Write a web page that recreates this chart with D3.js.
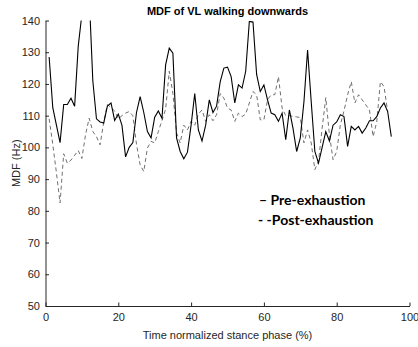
<!DOCTYPE html>
<html>
<head>
<meta charset="utf-8">
<script src="https://cdn.jsdelivr.net/npm/d3@7/dist/d3.min.js"></script>
<style>
html,body{margin:0;padding:0;background:#fff;}
svg{display:block;}
</style>
</head>
<body>
<svg id="chart" width="418" height="347"></svg>
<script>
const titleText = "MDF of VL walking downwards";
const xLabel = "Time normalized stance phase (%)";
const yLabel = "MDF (Hz)";
const xTicks = [0, 20, 40, 60, 80, 100];
const yTicks = [50, 60, 70, 80, 90, 100, 110, 120, 130, 140];
const legendLabels = ["\u2013 Pre-exhaustion", "- -Post-exhaustion"];

const preX = d3.range(1, 96);
const preValues = [
  128.5, 112.5, 107, 101.5, 113.5, 113.5, 115.5, 113, 132, 142,
  156, 148, 121, 109, 108, 107.7, 113, 114, 108.5, 110.5,
  107, 97, 100, 101.5, 111, 116, 111, 105, 103, 109.5,
  111.5, 109.2, 126, 131.3, 129.7, 103, 98.7, 96.4, 98.5, 107,
  117, 105.5, 102, 107, 115, 111, 113, 120.7, 125, 125.3,
  122.3, 114, 119.7, 118.7, 124, 139.7, 139.5, 123, 117.6, 119.7,
  115, 110.8, 110.3, 108.2, 110.8, 102.4, 111.8, 106, 98.7, 103,
  114.4, 130.7, 114.4, 98.7, 95, 100, 105, 102, 107, 108,
  110.3, 109.7, 100.3, 106.6, 105.5, 106.6, 104.5, 106.1, 108.4, 108.4,
  109.7, 112.4, 114, 111.3, 103.4
];

const postX = d3.range(1, 95);
const postValues = [
  109, 101, 92, 82.5, 98, 95, 96, 97.5, 99, 96.5,
  104, 109.2, 105, 103.4, 100.8, 108, 113.5, 112.5, 111.5, 109,
  110, 110.8, 111.3, 110, 101, 94.5, 92.4, 99.8, 101.9, 101.4,
  105, 108.5, 112, 124, 117, 104.6, 101.4, 107, 105.5, 108.2,
  107, 110.5, 111.8, 108.2, 110.3, 108.4, 110.3, 117, 115.5, 112.4,
  111.8, 108.2, 110.8, 109.7, 110.5, 114, 117.6, 116.6, 108.7, 108.7,
  115, 116.6, 116.6, 122.3, 112.4, 110, 110, 109.8, 109.6, 109.4,
  101.4, 105.5, 101.4, 93, 95.6, 106, 115.7, 104, 96.1, 98.7,
  107.1, 111.5, 116.6, 120.7, 114, 116.6, 115, 113.4, 111.8, 103.4,
  108, 120.7, 119.2, 111.3
];

const svg = d3.select("#chart");
const m = {left: 45.5, right: 409.5, top: 20.5, bottom: 306};
const axisColor = "#262626";
const font = "'Liberation Sans', Arial, Helvetica, sans-serif";

const x = d3.scaleLinear().domain([0, 100]).range([m.left, m.right]);
const y = d3.scaleLinear().domain([50, 140]).range([m.bottom, m.top]);

svg.append("defs").append("clipPath").attr("id", "clip")
  .append("rect")
  .attr("x", m.left).attr("y", m.top)
  .attr("width", m.right - m.left).attr("height", m.bottom - m.top);

const line = d3.line().x(d => x(d[0])).y(d => y(d[1]));

const plot = svg.append("g").attr("clip-path", "url(#clip)");
plot.append("path")
  .datum(postX.map((d, i) => [d, postValues[i]]))
  .attr("d", line)
  .attr("fill", "none")
  .attr("stroke", "#707070")
  .attr("stroke-width", 1)
  .attr("stroke-dasharray", "4,3");
plot.append("path")
  .datum(preX.map((d, i) => [d, preValues[i]]))
  .attr("d", line)
  .attr("fill", "none")
  .attr("stroke", "#000")
  .attr("stroke-width", 1.1);

// axes
const xAxis = d3.axisBottom(x).tickValues(xTicks).tickSizeInner(-3.5).tickSizeOuter(0).tickPadding(7);
const yAxis = d3.axisLeft(y).tickValues(yTicks).tickSizeInner(-3.5).tickSizeOuter(0).tickPadding(5.5);

const gx = svg.append("g").attr("transform", `translate(0,${m.bottom})`).call(xAxis);
const gy = svg.append("g").attr("transform", `translate(${m.left},0)`).call(yAxis);
[gx, gy].forEach(g => {
  g.select(".domain").attr("stroke", axisColor).attr("stroke-width", 1);
  g.selectAll(".tick line").attr("stroke", axisColor).attr("stroke-width", 1);
  g.selectAll(".tick text").attr("fill", axisColor)
    .style("font-family", font).style("font-size", "11px");
});

// title
svg.append("text")
  .attr("x", (m.left + m.right) / 2).attr("y", 15)
  .attr("text-anchor", "middle")
  .style("font-family", font).style("font-size", "11px").style("font-weight", "bold")
  .attr("fill", "#000")
  .text(titleText);

// axis labels
svg.append("text")
  .attr("x", (m.left + m.right) / 2).attr("y", 339)
  .attr("text-anchor", "middle")
  .style("font-family", font).style("font-size", "11px")
  .attr("fill", axisColor)
  .text(xLabel);

svg.append("text")
  .attr("transform", `translate(19.5,${(m.top + m.bottom) / 2}) rotate(-90)`)
  .attr("text-anchor", "middle")
  .style("font-family", font).style("font-size", "11px")
  .attr("fill", axisColor)
  .text(yLabel);

// legend text
const legendFont = "Lato, 'Open Sans', sans-serif";
svg.append("text")
  .attr("x", 259).attr("y", 205)
  .style("font-family", legendFont).style("font-size", "14px").style("font-weight", "bold")
  .attr("fill", "#000")
  .text(legendLabels[0]);
svg.append("text")
  .attr("x", 258).attr("y", 225)
  .style("font-family", legendFont).style("font-size", "14px").style("font-weight", "bold")
  .attr("fill", "#000")
  .text(legendLabels[1]);
</script>
</body>
</html>
